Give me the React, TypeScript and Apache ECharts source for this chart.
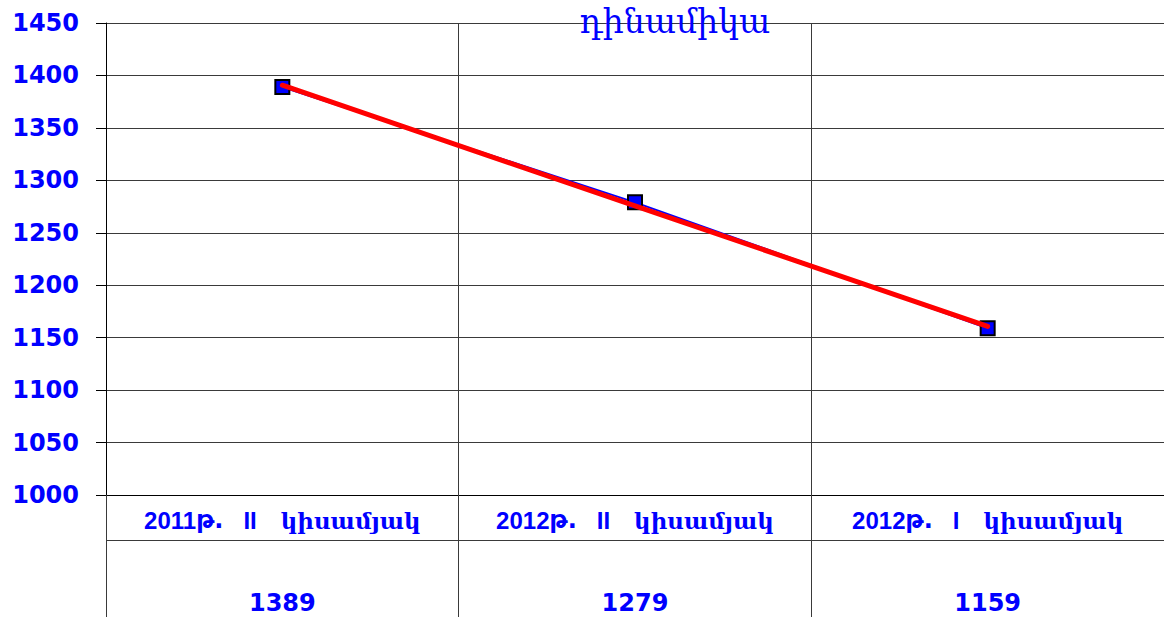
import React, { useEffect, useRef } from "react";
import * as echarts from "echarts";

const years = ["2011", "2012", "2012"];
const halves = ["II", "II", "I"];
const yearSuffix = "թ.";
const periodWord = "կիսամյակ";
const categories = years.map((y, i) => `${y}${yearSuffix} ${halves[i]} ${periodWord}`);
const values = [1389, 1279, 1159];
const trendValues = [1390.7, 1275.7, 1160.7];
const titleText = "դինամիկա";
const yMin = 1000;
const yMax = 1450;
const yInterval = 50;

export default function App() {
  const ref = useRef<HTMLDivElement>(null);
  useEffect(() => {
    if (!ref.current) return;
    const chart = echarts.init(ref.current, null, { renderer: "svg" });
    const blue = "#0000FF";
    const gridColor = "#3a3a3a";
    chart.setOption({
      animation: false,
      backgroundColor: "#ffffff",
      grid: { left: 106, right: 0, top: 23, bottom: 122, containLabel: false },
      xAxis: [
        {
          type: "category",
          data: categories,
          boundaryGap: true,
          position: "bottom",
          axisLine: { show: true, lineStyle: { color: "#000", width: 1 } },
          axisTick: { show: true, length: 122, lineStyle: { color: gridColor, width: 1 } },
          splitLine: { show: true, lineStyle: { color: gridColor, width: 1 } },
          axisLabel: {
            margin: 25,
            verticalAlign: "middle",
            color: blue,
            formatter: (_v: string, i: number) =>
              `{a|${years[i]}}{c|${yearSuffix}}{a|   ${halves[i]}}{b|   ${periodWord}}`,
            rich: {
              a: {
                color: blue,
                fontSize: 24,
                fontWeight: "bold",
                fontFamily: "Liberation Sans",
              },
              c: {
                color: blue,
                fontSize: 24,
                fontWeight: "bold",
                fontFamily: "DejaVu Sans",
              },
              b: {
                color: blue,
                fontSize: 23,
                fontWeight: "bold",
                fontFamily: "DejaVu Serif",
              },
            },
          },
        },
        {
          type: "category",
          data: values.map(String),
          boundaryGap: true,
          position: "bottom",
          gridIndex: 0,
          axisLine: { show: false },
          axisTick: { show: false },
          splitLine: { show: false },
          axisLabel: {
            margin: 108,
            verticalAlign: "middle",
            color: blue,
            fontSize: 24,
            fontWeight: "bold",
            fontFamily: "DejaVu Sans",
          },
        },
      ],
      yAxis: {
        type: "value",
        min: yMin,
        max: yMax,
        interval: yInterval,
        axisLine: { show: true, lineStyle: { color: "#000", width: 1 } },
        axisTick: { show: true, length: 10, lineStyle: { color: "#000" } },
        splitLine: { show: true, lineStyle: { color: gridColor, width: 1 } },
        axisLabel: {
          margin: 27,
          color: blue,
          fontSize: 24,
          fontWeight: "bold",
          fontFamily: "DejaVu Sans",
          formatter: (v: number) => String(v),
        },
      },
      graphic: [
        {
          type: "line",
          shape: { x1: 106, y1: 540.5, x2: 1164, y2: 540.5 },
          style: { stroke: gridColor, lineWidth: 1 },
          z: 10,
        },
        {
          type: "text",
          x: 675,
          y: 21,
          z: 20,
          style: {
            text: titleText,
            fill: blue,
            fontSize: 33,
            lineHeight: 34,
            fontFamily: "DejaVu Serif",
            textAlign: "center",
            textVerticalAlign: "middle",
          },
        },
      ],
      series: [
        {
          type: "line",
          data: values,
          xAxisIndex: 0,
          symbol: "rect",
          symbolSize: 14,
          lineStyle: { color: blue, width: 2 },
          itemStyle: { color: blue, borderColor: "#000", borderWidth: 2 },
          z: 3,
        },
        {
          type: "line",
          data: trendValues,
          xAxisIndex: 0,
          symbol: "none",
          lineStyle: { color: "#FF0000", width: 5, cap: "round" },
          z: 5,
        },
      ],
    });
    return () => chart.dispose();
  }, []);
  return (
    <div
      ref={ref}
      style={{ position: "fixed", left: 0, top: 0, width: 1164, height: 617 }}
    />
  );
}
